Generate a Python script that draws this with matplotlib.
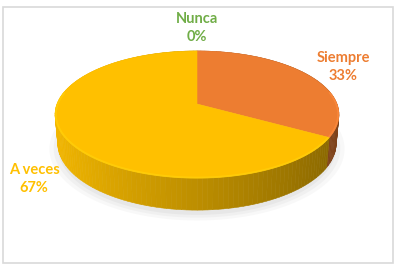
import numpy as np
import matplotlib.pyplot as plt
from matplotlib.patches import Polygon, Rectangle
from matplotlib.colors import to_rgb

categories = ["Siempre", "A veces", "Nunca"]
percents = [33.3, 66.7, 0.0]
slice_colors = ["#ED7D31", "#FFC000", "#70AD47"]
label_colors = ["#ED7D31", "#FFC000", "#70AD47"]
# where each data label sits (pixels, top-left origin)
label_pos = [(343, 67), (34, 179), (197, 28)]

# perspective set-up of the 3D pie (radius = 1)
CX, CY = 197, 104
F, D = 760, 5.43
TILT = np.radians(26.2)
THICK = 0.229


def project(theta, r=1.0, h=0.0):
    """Project a point on the pie (theta clockwise from 12 o'clock) to pixels."""
    u = r * np.sin(theta)
    w = r * np.cos(theta)
    s, c = np.sin(TILT), np.cos(TILT)
    yc = w * s + h * c
    zc = D + w * c - h * s
    return CX + F * u / zc, CY - F * yc / zc


def shade(color, theta):
    # darker toward the right hand side of the rim
    k = 0.74 - 0.22 * np.sin(theta)
    return tuple(np.clip(np.array(to_rgb(color)) * k, 0, 1))


fig = plt.figure(figsize=(3.99, 2.76), dpi=100)
ax = fig.add_axes([0, 0, 1, 1])
ax.set_xlim(0, 399)
ax.set_ylim(276, 0)
ax.axis("off")

ax.add_patch(Rectangle((2.5, 7), 390, 256, fill=False, edgecolor="#D9D9D9", linewidth=1.2))

# soft shadow
for k, a in zip([1.06, 1.03, 1.0], [0.05, 0.06, 0.08]):
    t = np.linspace(0, 2 * np.pi, 200)
    sx, sy = project(t, r=k, h=-THICK - 0.02)
    ax.add_patch(Polygon(np.column_stack([sx, sy + 2]), closed=True, facecolor="gray", alpha=a, linewidth=0))

angles = np.cumsum([0] + percents) / 100 * 2 * np.pi

# side of the pie, back to front
quads = []
for i, p in enumerate(percents):
    if p <= 0:
        continue
    t = np.linspace(angles[i], angles[i + 1], max(int(p * 2), 4))
    for a0, a1 in zip(t[:-1], t[1:]):
        x0, y0 = project(a0)
        x1, y1 = project(a1)
        x2, y2 = project(a1, h=-THICK)
        x3, y3 = project(a0, h=-THICK)
        col = shade(slice_colors[i], (a0 + a1) / 2)
        depth = np.cos((a0 + a1) / 2)
        quads.append((depth, [(x0, y0), (x1, y1), (x2, y2), (x3, y3)], col))
quads.sort(key=lambda q: -q[0])
for _, pts, col in quads:
    ax.add_patch(Polygon(pts, closed=True, facecolor=col, edgecolor=col, linewidth=0.4))

# top faces
for i, p in enumerate(percents):
    if p <= 0:
        continue
    t = np.linspace(angles[i], angles[i + 1], 120)
    x, y = project(t)
    cx, cy = project(0.0, r=0.0)
    pts = np.column_stack([np.r_[cx, x], np.r_[cy, y]])
    ax.add_patch(Polygon(pts, closed=True, facecolor=slice_colors[i], edgecolor=slice_colors[i], linewidth=0.4))
    # bevel highlight on the near rim
    tf = t[np.cos(t) < 0.2]
    if len(tf):
        bx, by = project(tf, r=0.995)
        light = tuple(np.clip(np.array(to_rgb(slice_colors[i])) * 1.03 + 0.04, 0, 1))
        ax.plot(bx, by, color=light, linewidth=1.4, alpha=0.7, solid_capstyle="butt")

# data labels
for name, p, col, (lx, ly) in zip(categories, percents, label_colors, label_pos):
    ax.text(lx, ly, f"{name}\n{p:.0f}%", color=col, ha="center", va="center",
            fontsize=10.5, fontweight="bold", family="Lato", linespacing=1.3)

fig.savefig("out.png", dpi=100)
